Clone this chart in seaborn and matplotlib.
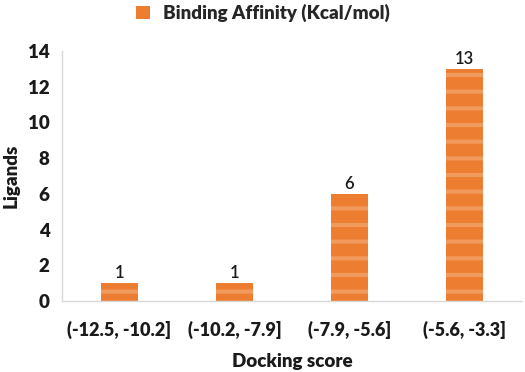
import matplotlib
matplotlib.use("Agg")
import matplotlib.pyplot as plt
import seaborn as sns
import pandas as pd
from matplotlib.patches import Patch

categories = ["(-12.5, -10.2]", "(-10.2, -7.9]", "(-7.9, -5.6]", "(-5.6, -3.3]"]
ligands = [1, 1, 6, 13]
series_name = "Binding Affinity (Kcal/mol)"
yticks = [0, 2, 4, 6, 8, 10, 12, 14]

df = pd.DataFrame({"Docking score": categories, "Ligands": ligands})

sns.set_theme(style="white")
plt.rcParams['font.family'] = ['Lato', 'DejaVu Sans']
plt.rcParams['hatch.linewidth'] = 3
plt.rcParams['hatch.color'] = '#F09A5C'

W = 'heavy'
fig = plt.figure(figsize=(5.25, 3.72), dpi=100)
ax = fig.add_axes([62/525, 1 - 301/372, 460/525, 250/372])

color = "#ED7D31"
sns.barplot(data=df, x="Docking score", y="Ligands", color=color, width=0.33,
            saturation=1, ax=ax)
for p in ax.patches:
    p.set_hatch('-')
    p.set_edgecolor('#F09A5C')
    p.set_linewidth(0)

for p, v in zip(ax.patches, ligands):
    ax.text(p.get_x() + p.get_width() / 2, v + 0.12, str(v), ha='center', va='bottom',
            fontsize=12, color='#1a1a1a', fontweight='semibold')

ax.set_ylim(0, 14)
ax.set_xlim(-0.5, 3.5)
ax.set_yticks(yticks)
ax.set_yticklabels([str(t) for t in yticks], fontsize=13.5, fontweight=W, color='#1a1a1a')
ax.set_xticks(range(len(categories)))
ax.set_xticklabels(categories, fontsize=13, fontweight=W, color='#1a1a1a')
ax.tick_params(axis='y', length=0, pad=9)
ax.tick_params(axis='x', length=0, pad=14)
ax.set_xlabel("Docking score", fontsize=13.5, fontweight=W, color='#1a1a1a', labelpad=10)
ax.set_ylabel("Ligands", fontsize=13.5, fontweight=W, color='#1a1a1a', labelpad=6)
for s in ['top', 'right']:
    ax.spines[s].set_visible(False)
for s in ['left', 'bottom']:
    ax.spines[s].set_color('#D9D9D9')
    ax.spines[s].set_linewidth(1)

handle = Patch(facecolor=color, edgecolor='none')
fig.legend([handle], [series_name], loc='upper center', bbox_to_anchor=(0.5, 1.035),
           frameon=False, prop={'size': 13.5, 'weight': W}, handlelength=0.75,
           handleheight=0.75, handletextpad=0.7)

fig.savefig("out.png", dpi=100)
